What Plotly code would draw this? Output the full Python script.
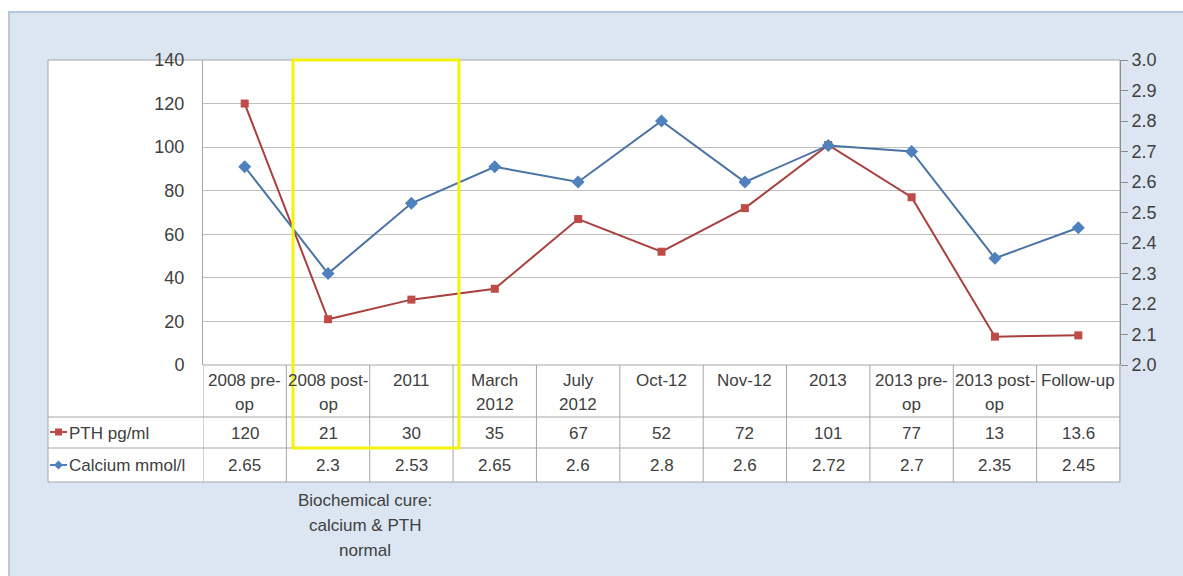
import plotly.graph_objects as go

# ---------------- data ----------------
categories = ["2008 pre-op", "2008 post-op", "2011", "March 2012", "July 2012",
              "Oct-12", "Nov-12", "2013", "2013 pre-op", "2013 post-op", "Follow-up"]
category_labels = [["2008 pre-", "op"], ["2008 post-", "op"], ["2011"], ["March", "2012"],
                   ["July", "2012"], ["Oct-12"], ["Nov-12"], ["2013"], ["2013 pre-", "op"],
                   ["2013 post-", "op"], ["Follow-up"]]
pth = [120, 21, 30, 35, 67, 52, 72, 101, 77, 13, 13.6]
calcium = [2.65, 2.3, 2.53, 2.65, 2.6, 2.8, 2.6, 2.72, 2.7, 2.35, 2.45]
pth_name = "PTH pg/ml"
calcium_name = "Calcium mmol/l"
left_ticks = [0, 20, 40, 60, 80, 100, 120, 140]
note_lines = ["Biochemical cure:", "calcium & PTH", "normal"]

# ---------------- geometry helpers ----------------
W, H = 1183, 576
def px(x):
    return x / W
def py(y):
    return 1 - y / H

FONT = "Liberation Sans, Arial, sans-serif"
TXT = "#404040"
GRID = "#a6a6a6"
RED = "#be4b48"
BLUE = "#4f81bd"
FS = 17

PLOT_L, PLOT_R, PLOT_T, PLOT_B = 203, 1120, 60, 365
ROW1, ROW2, ROW3 = 417, 448, 482

idx = list(range(len(categories)))

fig = go.Figure()
fig.add_trace(go.Scatter(
    x=idx, y=pth, name=pth_name, mode="lines+markers",
    line=dict(color="#a8403e", width=2),
    marker=dict(symbol="square", size=8, color=RED),
    hoverinfo="skip"))
fig.add_trace(go.Scatter(
    x=idx, y=calcium, name=calcium_name, mode="lines+markers", yaxis="y2",
    line=dict(color="#4a72a4", width=2),
    marker=dict(symbol="diamond", size=10, color=BLUE),
    hoverinfo="skip"))

shapes = []
# outer light-blue panel
shapes.append(dict(type="rect", xref="paper", yref="paper",
                   x0=px(9), x1=px(1190), y0=py(12), y1=py(580),
                   fillcolor="#dce6f2", line=dict(color="#b8c8dc", width=2), layer="below"))
# white chart panel
shapes.append(dict(type="rect", xref="paper", yref="paper",
                   x0=px(48), x1=px(PLOT_R), y0=py(PLOT_T), y1=py(ROW3),
                   fillcolor="white", line=dict(color=GRID, width=1), layer="below"))
# table horizontal lines
for yy in (ROW1, ROW2):
    shapes.append(dict(type="line", xref="paper", yref="paper",
                       x0=px(48), x1=px(PLOT_R), y0=py(yy), y1=py(yy),
                       line=dict(color=GRID, width=1)))
shapes.append(dict(type="line", xref="paper", yref="paper",
                   x0=px(PLOT_L), x1=px(PLOT_R), y0=py(PLOT_B), y1=py(PLOT_B),
                   line=dict(color=GRID, width=1)))
# table vertical lines at category boundaries
for i in range(len(categories) + 1):
    shapes.append(dict(type="line", xref="x", yref="paper",
                       x0=i - 0.5, x1=i - 0.5, y0=py(PLOT_B), y1=py(ROW3),
                       line=dict(color=GRID, width=1)))
# legend keys in the table
for yc, col in ((432, RED), (465, BLUE)):
    shapes.append(dict(type="line", xref="paper", yref="paper",
                       x0=px(50), x1=px(67), y0=py(yc), y1=py(yc),
                       line=dict(color=col, width=2)))
shapes.append(dict(type="rect", xref="paper", yref="paper",
                   x0=px(55), x1=px(62), y0=py(428.5), y1=py(435.5),
                   fillcolor=RED, line=dict(width=0)))
shapes.append(dict(type="path", xref="paper", yref="paper",
                   path=f"M {px(58.5)} {py(460.5)} L {px(63)} {py(465)} L {px(58.5)} {py(469.5)} L {px(54)} {py(465)} Z",
                   fillcolor=BLUE, line=dict(width=0)))
# yellow highlight box
shapes.append(dict(type="rect", xref="x", yref="paper",
                   x0=0.58, x1=2.57, y0=py(ROW2), y1=py(PLOT_T),
                   line=dict(color="#f2f20a", width=3), fillcolor="rgba(0,0,0,0)"))

def txt(x, y, s, xref="x", xanchor="center"):
    return dict(x=x, y=py(y), xref=xref, yref="paper", text=s, showarrow=False,
                yanchor="middle", xanchor=xanchor,
                font=dict(family=FONT, size=FS, color=TXT))

annotations = []
for i, lines in enumerate(category_labels):
    for k, line in enumerate(lines):
        annotations.append(txt(i, 380 + 24 * k, line))
    annotations.append(txt(i, 433, f"{pth[i]:g}"))
    annotations.append(txt(i, 465, f"{calcium[i]:g}"))
annotations.append(txt(px(67), 433, pth_name, xref="paper", xanchor="left"))
annotations.append(txt(px(67), 465, calcium_name, xref="paper", xanchor="left"))
for k, line in enumerate(note_lines):
    annotations.append(txt(px(365), 500 + 25 * k, line, xref="paper"))

fig.update_layout(
    width=W, height=H,
    margin=dict(l=0, r=0, t=0, b=0, autoexpand=False),
    paper_bgcolor="white",
    plot_bgcolor="rgba(0,0,0,0)",
    showlegend=False,
    font=dict(family=FONT, size=FS, color=TXT),
    xaxis=dict(domain=[px(PLOT_L), px(PLOT_R)], range=[-0.5, len(categories) - 0.5],
               showticklabels=False, showgrid=False, zeroline=False, showline=False,
               fixedrange=True),
    yaxis=dict(domain=[py(PLOT_B), py(PLOT_T)], range=[0, 140], tickvals=left_ticks,
               showgrid=True, gridcolor="#bfbfbf", gridwidth=1, zeroline=False,
               showline=True, linecolor=GRID, ticks="", ticklabelstandoff=14,
               tickfont=dict(family=FONT, size=18, color=TXT), fixedrange=True),
    yaxis2=dict(overlaying="y", side="right", anchor="x", range=[2.0, 3.0], dtick=0.1,
                tickformat=".1f", showgrid=False, zeroline=False, showline=True,
                linecolor="#8c8c8c", ticks="outside", ticklen=7, tickcolor="#8c8c8c",
                tickfont=dict(family=FONT, size=18, color=TXT), fixedrange=True),
    shapes=shapes,
    annotations=annotations,
)

fig.write_html("out.html")
